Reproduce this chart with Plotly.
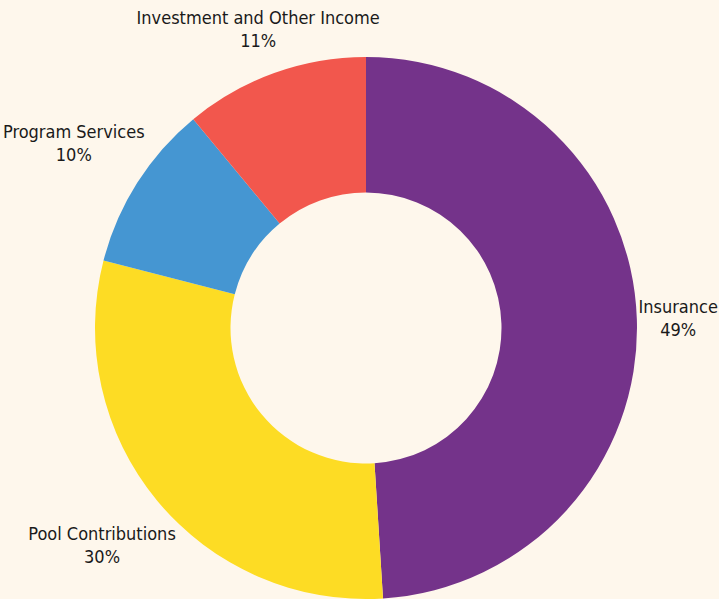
import plotly.graph_objects as go

categories = ["Insurance", "Pool Contributions", "Program Services", "Investment and Other Income"]
values = [49, 30, 10, 11]
colors = ["#74338A", "#FDDC24", "#4596D2", "#F2574D"]

W, H = 719, 599
BG = "#FEF7EC"

# label centers in pixels (x, y from top)
label_pos = {
    "Insurance": (678, 318),
    "Pool Contributions": (102, 545),
    "Program Services": (74, 143),
    "Investment and Other Income": (258, 29),
}

fig = go.Figure(go.Pie(
    labels=categories,
    values=values,
    marker=dict(colors=colors, line=dict(width=0)),
    hole=0.5,
    sort=False,
    direction="clockwise",
    rotation=0,
    textinfo="none",
    hoverinfo="label+percent",
    showlegend=False,
    domain=dict(x=[95 / W, 637 / W], y=[(H - 599) / H, (H - 57) / H]),
))

total = sum(values)
for cat, val in zip(categories, values):
    px, py = label_pos[cat]
    fig.add_annotation(
        x=px / W, y=1 - py / H, xref="paper", yref="paper",
        text=f"{cat}<br>{round(100 * val / total)}%",
        showarrow=False, xanchor="center", yanchor="middle", align="center",
        font=dict(family="DejaVu Sans", size=18, color="#1a1a1a"),
    )

fig.update_layout(
    width=W, height=H,
    margin=dict(l=0, r=0, t=0, b=0),
    paper_bgcolor=BG, plot_bgcolor=BG,
)

post = (
    "document.body.style.margin='0';"
    "document.body.style.background='%s';"
    "document.querySelectorAll('.annotation-text').forEach(function(t){"
    "t.style.fontStretch='condensed';});" % BG
)

fig.write_html("out.html", post_script=post, config={"displayModeBar": False})
